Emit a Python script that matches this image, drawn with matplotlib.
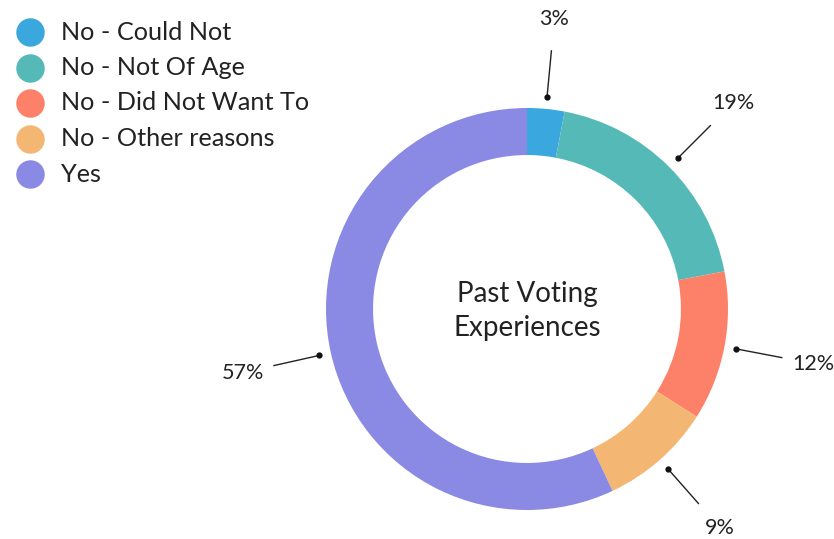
import numpy as np
import matplotlib.pyplot as plt
from matplotlib.lines import Line2D

plt.rcParams['font.family'] = ['Lato', 'DejaVu Sans']

categories = ['No - Could Not', 'No - Not Of Age', 'No - Did Not Want To',
              'No - Other reasons', 'Yes']
shares = [3, 19, 12, 9, 57]
colors = ['#3aa8de', '#55bab7', '#fd8069', '#f4b673', '#8a89e3']

W, H = 834, 539
fig = plt.figure(figsize=(W / 100, H / 100), dpi=100)
ax = fig.add_axes([0, 0, 1, 1])

# donut, clockwise from 12 o'clock
wedges, _ = ax.pie(shares, colors=colors, startangle=90, counterclock=False,
                   radius=1.0, wedgeprops=dict(width=0.234, linewidth=0))

# leader lines and percentage labels
for w, s in zip(wedges, shares):
    mid = np.deg2rad((w.theta1 + w.theta2) / 2)
    c, sn = np.cos(mid), np.sin(mid)
    ax.plot([1.06 * c, 1.29 * c], [1.06 * sn, 1.29 * sn], color='#222222', lw=1.0)
    ax.plot(1.06 * c, 1.06 * sn, 'o', color='#111111', ms=3.5)
    ax.text(1.45 * c, 1.45 * sn, f'{s}%', ha='center', va='center',
            fontsize=15.5, color='#222222')

ax.text(0, -0.01, 'Past Voting\nExperiences', ha='center', va='center',
        fontsize=20, color='#222222', linespacing=1.35)

ax.set_xlim(-527 / 201, 307 / 201)
ax.set_ylim(-230 / 201, 309 / 201)
ax.set_aspect('auto')
ax.axis('off')

# legend drawn row by row
for i, (lab, col) in enumerate(zip(categories, colors)):
    y = 1 - (32 + i * 35.5) / H
    fig.add_artist(Line2D([30 / W], [y], transform=fig.transFigure, marker='o',
                          markersize=20.5, markerfacecolor=col, markeredgewidth=0))
    fig.text(61 / W, y, lab, ha='left', va='center', fontsize=18.2, color='#222222')

fig.savefig('out.png', dpi=100)
